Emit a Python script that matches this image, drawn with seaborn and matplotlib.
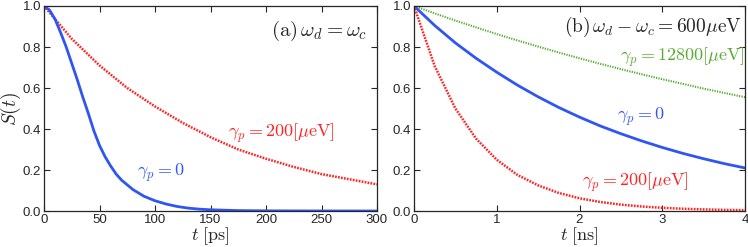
import numpy as np
import matplotlib
matplotlib.use("Agg")
import matplotlib.pyplot as plt
import seaborn as sns

# panel (a): omega_d = omega_c, time in ps
t_a = [0, 5, 10, 15, 20, 25, 30, 35, 40, 45, 50, 55, 60, 65, 70, 80, 90, 100,
       110, 120, 130, 140, 150, 175, 200, 250, 300]
s_a_gamma0 = [1.0, 0.98, 0.935, 0.87, 0.80, 0.72, 0.64, 0.555, 0.475, 0.39, 0.32,
              0.265, 0.22, 0.18, 0.15, 0.105, 0.072, 0.05, 0.034, 0.022, 0.014,
              0.009, 0.006, 0.002, 0.0008, 0.0001, 0.0]
t_a_red = [0, 25, 50, 75, 100, 125, 150, 175, 200, 225, 250, 275, 300]
s_a_gamma200 = [1.0, 0.84, 0.71, 0.60, 0.51, 0.43, 0.36, 0.30, 0.255, 0.215,
                0.18, 0.155, 0.13]

# panel (b): omega_d - omega_c = 600 ueV, time in ns
t_b = [0, 0.25, 0.5, 0.75, 1.0, 1.25, 1.5, 1.75, 2.0, 2.25, 2.5, 2.75, 3.0,
       3.25, 3.5, 3.75, 4.0]
s_b_gamma0 = [1.0, 0.905, 0.82, 0.745, 0.677, 0.614, 0.557, 0.505, 0.458, 0.415,
              0.377, 0.342, 0.31, 0.281, 0.255, 0.231, 0.21]
s_b_gamma200 = [1.0, 0.707, 0.50, 0.353, 0.25, 0.176, 0.125, 0.088, 0.062, 0.044,
                0.031, 0.022, 0.0155, 0.011, 0.0078, 0.0055, 0.004]
s_b_gamma12800 = [1.0, 0.964, 0.929, 0.896, 0.863, 0.832, 0.802, 0.773, 0.745,
                  0.718, 0.692, 0.667, 0.643, 0.620, 0.597, 0.576, 0.555]

BLUE = "#2f55f5"
RED = "#ff2424"
GREEN = "#5aaa32"

sns.set_style("ticks")
plt.rcParams["font.family"] = ["Liberation Sans", "DejaVu Sans"]
plt.rcParams["mathtext.fontset"] = "cm"
plt.rcParams["xtick.direction"] = "in"
plt.rcParams["ytick.direction"] = "in"

fig = plt.figure(figsize=(7.48, 2.47), dpi=100)
ax1 = fig.add_axes([44 / 748, 36 / 247, 333 / 748, 205 / 247])
ax2 = fig.add_axes([414 / 748, 36 / 247, 331 / 748, 205 / 247])

sns.lineplot(x=t_a_red, y=s_a_gamma200, ax=ax1, color=RED, lw=1.8, ls=(0, (0.7, 0.5)))
sns.lineplot(x=t_a, y=s_a_gamma0, ax=ax1, color=BLUE, lw=2)
ax1.set_xlim(0, 300)
ax1.set_xticks([0, 50, 100, 150, 200, 250, 300])
ax1.set_xlabel(r"$t\ [\mathrm{ps}]$", fontsize=13, labelpad=0)
ax1.set_ylabel(r"$S(t)$", fontsize=14, labelpad=0)
ax1.text(0.97, 0.88, r"$\mathrm{(a)}\,\omega_d=\omega_c$", transform=ax1.transAxes,
         ha="right", va="center", fontsize=15)
ax1.text(214, 0.38, r"$\gamma_p=200[\mu\mathrm{eV}]$", color=RED, ha="center",
         va="center", fontsize=13)
ax1.text(105, 0.185, r"$\gamma_p=0$", color=BLUE, ha="center", va="center", fontsize=13)

sns.lineplot(x=t_b, y=s_b_gamma12800, ax=ax2, color=GREEN, lw=1.5, ls=(0, (0.6, 0.6)))
sns.lineplot(x=t_b, y=s_b_gamma0, ax=ax2, color=BLUE, lw=2)
sns.lineplot(x=t_b, y=s_b_gamma200, ax=ax2, color=RED, lw=1.8, ls=(0, (0.7, 0.5)))
ax2.set_xlim(0, 4)
ax2.set_xticks([0, 1, 2, 3, 4])
ax2.set_xlabel(r"$t\ [\mathrm{ns}]$", fontsize=13, labelpad=0)
ax2.text(0.99, 0.9, r"$\mathrm{(b)}\,\omega_d-\omega_c=600\mu\mathrm{eV}$",
         transform=ax2.transAxes, ha="right", va="center", fontsize=14)
ax2.text(4.0, 0.75, r"$\gamma_p=12800[\mu\mathrm{eV}]$", color=GREEN, ha="right",
         va="center", fontsize=13)
ax2.text(2.74, 0.46, r"$\gamma_p=0$", color=BLUE, ha="center", va="center", fontsize=13)
ax2.text(2.68, 0.14, r"$\gamma_p=200[\mu\mathrm{eV}]$", color=RED, ha="center",
         va="center", fontsize=13)

for ax in (ax1, ax2):
    ax.set_ylim(0, 1)
    ax.set_yticks([0, 0.2, 0.4, 0.6, 0.8, 1.0])
    ax.set_yticklabels(["0.0", "0.2", "0.4", "0.6", "0.8", "1.0"])
    ax.tick_params(top=True, right=True, labelsize=9.5, length=4, width=0.8, pad=2)
    for sp in ax.spines.values():
        sp.set_linewidth(0.9)

fig.savefig("out.png", dpi=100)
